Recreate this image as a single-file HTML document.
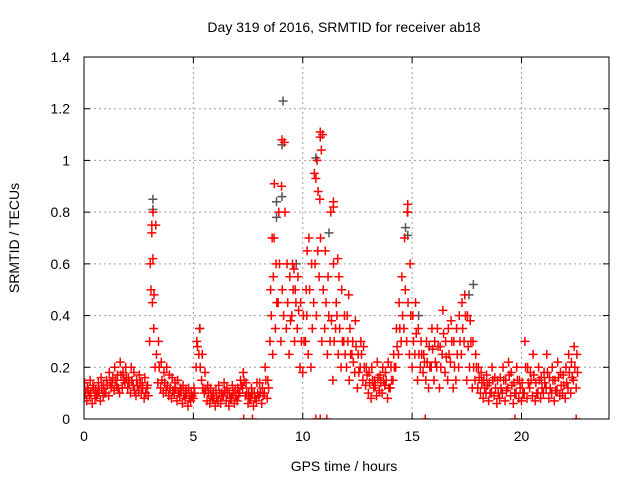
<!DOCTYPE html>
<html><head><meta charset="utf-8"><style>
body{margin:0;background:#fff}
svg{display:block;font-family:"Liberation Sans",sans-serif}
</style></head><body>
<svg id="chart" width="640" height="480">
<defs><clipPath id="pc"><rect x="84" y="57" width="525" height="362"/></clipPath></defs>
<text x="344" y="32" font-size="14" text-anchor="middle">Day 319 of 2016, SRMTID for receiver ab18</text>
<text x="344" y="471" font-size="14" text-anchor="middle">GPS time / hours</text>
<text transform="translate(19,238) rotate(-90)" font-size="14" text-anchor="middle">SRMTID / TECUs</text>
<g id="grid"></g><g id="marks" clip-path="url(#pc)"></g><g id="axes"></g>
</svg>
<script>
const xTicks=[0,5,10,15,20];
const yTicks=[0,0.2,0.4,0.6,0.8,1,1.2,1.4];
const yTickLabels=["0","0.2","0.4","0.6","0.8","1","1.2","1.4"];
const stepHours=0.125;
const seriesLow=[.08,.07,.09,.06,.08,.1,.07,.09,.1,.09,.12,.11,.13,.1,.12,.14,.12,.1,.13,.09,.11,.1,.08,.12,.3,.45,.2,.14,.12,.1,.11,.09,.08,.1,.07,.09,.06,.08,.05,.07,.08,.2,.25,.15,.1,.07,.06,.08,.05,.07,.06,.09,.07,.05,.08,.06,.07,.1,.12,.09,.06,.08,.05,.07,.09,.06,.1,.08,.3,.25,.35,.45,.3,.4,.35,.25,.4,.3,.35,.2,.18,.3,.25,.2,.45,.4,.55,.3,.35,.25,.3,.15,.35,.25,.2,.3,.2,.15,.25,.18,.12,.2,.15,.13,.1,.08,.12,.09,.11,.1,.13,.08,.12,.15,.2,.25,.3,.35,.3,.25,.2,.25,.15,.2,.18,.15,.12,.2,.15,.2,.12,.25,.18,.15,.22,.12,.15,.2,.25,.3,.15,.2,.12,.15,.12,.1,.08,.1,.07,.1,.09,.06,.08,.1,.07,.12,.09,.06,.1,.08,.07,.1,.08,.12,.09,.07,.1,.08,.1,.12,.08,.1,.07,.11,.09,.1,.08,.12,.1,.15,.12];
const seriesMid=[.1,.11,.1,.12,.09,.11,.12,.1,.13,.14,.16,.15,.12,.17,.15,.16,.14,.15,.11,.13,.14,.12,.1,.09,.5,.35,.25,.2,.15,.14,.13,.12,.11,.12,.1,.11,.09,.1,.08,.09,.1,.28,.2,.12,.11,.1,.09,.08,.08,.1,.09,.11,.1,.08,.1,.09,.09,.13,.15,.1,.08,.1,.08,.1,.1,.09,.15,.12,.4,.7,.45,.6,.5,.8,.45,.38,.5,.45,.42,.3,.3,.4,.5,.35,.6,.65,.7,.5,.45,.4,.38,.3,.4,.35,.3,.25,.3,.25,.22,.28,.18,.25,.2,.17,.14,.15,.13,.16,.14,.15,.15,.12,.15,.2,.28,.35,.4,.5,.45,.4,.3,.33,.25,.25,.22,.22,.2,.27,.22,.28,.2,.33,.24,.25,.3,.2,.25,.3,.35,.4,.28,.3,.2,.2,.16,.14,.12,.13,.1,.15,.12,.1,.12,.15,.11,.17,.13,.1,.15,.12,.1,.2,.14,.15,.17,.1,.15,.12,.14,.18,.12,.15,.11,.16,.13,.13,.14,.18,.16,.2,.18];
const seriesHigh=[.14,.12,.15,.13,.11,.14,.16,.13,.15,.18,.14,.2,.17,.22,.18,.2,.16,.2,.18,.15,.17,.14,.16,.13,.6,.8,.75,.3,.22,.18,.2,.17,.16,.14,.15,.12,.13,.11,.12,.1,.12,.3,.35,.25,.18,.13,.12,.1,.11,.13,.1,.14,.12,.1,.13,.11,.12,.15,.18,.14,.1,.12,.1,.14,.14,.12,.2,.15,.5,.55,.6,.8,.9,1.07,.6,.55,.6,.5,.55,.45,.4,.5,.7,.6,.95,1.0,.85,1.1,.65,.55,.8,.6,.45,.55,.5,.4,.4,.35,.3,.38,.25,.3,.28,.2,.18,.2,.15,.22,.17,.2,.18,.22,.2,.25,.35,.45,.55,.7,.8,.6,.4,.45,.35,.3,.25,.3,.28,.35,.3,.35,.28,.42,.3,.35,.38,.3,.35,.4,.45,.48,.4,.38,.3,.25,.2,.18,.15,.17,.14,.2,.16,.15,.16,.2,.15,.22,.18,.14,.2,.15,.14,.3,.2,.18,.25,.14,.2,.16,.18,.25,.16,.2,.15,.22,.18,.17,.2,.25,.22,.28,.25];
const spikeHours=[10.8,10.8,10.85,9.05,8.7,11.4,11.4,14.8,14.8,3.1,3.1,3.15,3.2,10.6,10.7,8.6,11.6,7.3,7.7,10.6,10.8,11.1,15.6,19.7,22.5,9.6,10.2,12.1];
const spikeValues=[1.11,1.09,1.04,1.08,.91,.84,.82,.83,.8,.75,.72,.62,.48,.93,.88,.7,.62,0,0,0,0,0,0,0,0,.58,.65,.48];
const grayHours=[3.15,3.15,9.1,9.05,9.05,8.8,8.8,10.6,14.7,14.8,17.8,5.3,11.2,15.3,17.6,9.7];
const grayValues=[.85,.81,1.23,1.06,.86,.84,.78,1.01,.74,.71,.52,.35,.72,.4,.48,.6];
const L=84,R=609,T=57,B=419,XMAX=24,YMAX=1.4;
const xs=h=>L+h/XMAX*(R-L), ys=v=>B-v/YMAX*(B-T);
const NS="http://www.w3.org/2000/svg";
function mk(tag,attrs,parent){const e=document.createElementNS(NS,tag);for(const k in attrs)e.setAttribute(k,attrs[k]);parent.appendChild(e);return e;}
const grid=document.getElementById('grid'),marks=document.getElementById('marks'),axes=document.getElementById('axes');
yTicks.forEach((v,i)=>{const y=ys(v);
 if(i>0&&i<yTicks.length-1){const g=mk('line',{x1:L,x2:R,y1:y,y2:y,stroke:'#a0a0a0','stroke-dasharray':'2,3','stroke-width':1},grid);
 
 }
 mk('line',{x1:L,x2:L+6,y1:y,y2:y,stroke:'#000'},axes);mk('line',{x1:R,x2:R-6,y1:y,y2:y,stroke:'#000'},axes);
 const t=mk('text',{x:L-14,y:y+5,'font-size':14,'text-anchor':'end',fill:'#000'},axes);t.textContent=yTickLabels[i];
 
 });
xTicks.forEach(h=>{const x=xs(h);
 if(h>0){const g=mk('line',{x1:x,x2:x,y1:T,y2:B,stroke:'#a0a0a0','stroke-dasharray':'2,3','stroke-width':1},grid);
 
 }
 mk('line',{x1:x,x2:x,y1:B,y2:B-6,stroke:'#000'},axes);mk('line',{x1:x,x2:x,y1:T,y2:T+6,stroke:'#000'},axes);
 const t=mk('text',{x:x,y:B+22,'font-size':14,'text-anchor':'middle',fill:'#000'},axes);t.textContent=String(h);
 
 });
const frame=mk('rect',{x:L,y:T,width:R-L,height:B-T,fill:'none',stroke:'#000','stroke-width':1},axes);


function plus(h,v,color,name){const x=xs(h),y=ys(v),s=4.5;
 const p=mk('path',{d:`M${x-s} ${y}H${x+s}M${x} ${y-s}V${y+s}`,stroke:color,'stroke-width':1.5,fill:'none'},marks);
 
 }
grayHours.forEach((h,i)=>plus(h,grayValues[i],'#555','gray-point'));
seriesLow.forEach((v,i)=>plus(i*stepHours,v,'#f00','srmtid-point'));
seriesMid.forEach((v,i)=>plus(i*stepHours+stepHours/2,v,'#f00','srmtid-point'));
seriesHigh.forEach((v,i)=>plus(i*stepHours+stepHours/4,v,'#f00','srmtid-point'));
spikeHours.forEach((h,i)=>plus(h,spikeValues[i],'#f00','srmtid-point'));
</script>
</body></html>
